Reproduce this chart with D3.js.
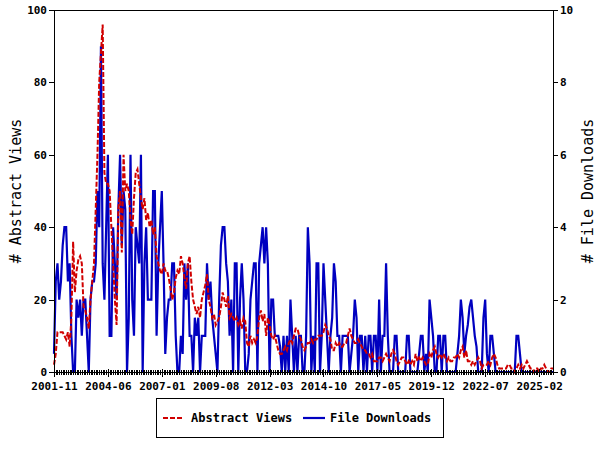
<!DOCTYPE html>
<html>
<head>
<meta charset="utf-8">
<script src="https://cdn.jsdelivr.net/npm/d3@7"></script>
<style>
  body { margin: 0; background: #fff; }
  text { font-family: "DejaVu Sans Mono", monospace; }
</style>
</head>
<body>
<div id="chart"></div>
<script>
// x tick labels, one every 31 months starting at 2001-11
var tickLabels = ["2001-11","2004-06","2007-01","2009-08","2012-03","2014-10","2017-05","2019-12","2022-07","2025-02"];

// monthly abstract views, 2001-11 .. 2025-10
var abstractViews = [
  2, 5, 11, 11, 11, 11, 10, 9, 11, 7,
  15, 36, 22, 28, 31, 32, 30, 18, 17, 15,
  12, 20, 25, 30, 45, 60, 80, 88, 96, 55,
  52, 52, 50, 40, 30, 20, 13, 45, 50, 33,
  60, 50, 52, 50, 42, 38, 48, 55, 56, 52,
  48, 45, 48, 42, 44, 40, 42, 38, 40, 32,
  30, 28, 27, 30, 28, 28, 26, 23, 20, 22,
  26, 28, 27, 32, 30, 26, 23, 30, 32, 25,
  20, 18, 16, 18, 15, 20, 22, 24, 27, 20,
  18, 15, 16, 13, 14, 15, 18, 22, 20, 18,
  21, 15, 16, 15, 14, 15, 13, 14, 12, 15,
  14, 8, 7, 10, 8, 9, 8, 10, 15, 17,
  14, 16, 10, 15, 13, 10, 9, 10, 8, 6,
  5, 5, 6, 7, 6, 8, 9, 8, 10, 12,
  12, 10, 9, 7, 6, 7, 8, 8, 9, 8,
  9, 9, 10, 10, 10, 11, 13, 12, 10, 9,
  6, 6, 8, 7, 8, 7, 7, 8, 8, 10,
  12, 10, 9, 8, 8, 9, 8, 7, 6, 6,
  5, 5, 4, 5, 3, 3, 3, 4, 4, 3,
  4, 5, 4, 3, 5, 6, 5, 3, 2, 3,
  4, 4, 3, 2, 3, 2, 3, 2, 5, 3,
  4, 3, 4, 3, 2, 2, 5, 4, 6, 7,
  5, 4, 5, 4, 5, 4, 3, 4, 3, 3,
  4, 4, 5, 4, 6, 7, 4, 6, 3, 3,
  2, 3, 2, 3, 4, 3, 1, 2, 2, 2,
  3, 2, 4, 5, 4, 2, 1, 1, 1, 1,
  1, 2, 2, 1, 1, 0, 1, 2, 1, 2,
  1, 2, 3, 2, 1, 1, 0, 1, 1, 0,
  1, 1, 2, 1, 0, 0, 1, 1
];

// monthly file downloads, same months
var fileDownloads = [
  0.5, 2.5, 3, 2, 2.5, 3.5, 4, 4, 2.5, 3,
  1, 0, 0, 2, 1.5, 2, 1, 2, 2, 1,
  0, 2, 2.5, 2.5, 3, 5, 4, 9, 3, 2,
  4, 6, 1, 1, 4, 3, 2, 4.5, 6, 3.5,
  5, 4.5, 0, 1.5, 6, 2, 1, 4, 3.5, 3,
  6, 0, 3, 4, 2, 2, 2, 5, 5, 1,
  3, 4, 5, 3, 0.5, 1.5, 2, 2, 3, 3,
  1, 0, 0, 1, 0.5, 3, 2, 3, 1, 1,
  0, 1.5, 1, 1.5, 0, 1, 1, 1, 3, 2,
  2.5, 1.5, 1, 0.5, 0, 2, 3.5, 4, 4, 3,
  2.5, 1, 2, 0, 3, 3, 0, 2, 3, 2,
  0, 0, 0.5, 2, 2.5, 3, 3, 0, 3, 3.5,
  4, 3, 4, 3, 0, 2, 2, 1, 1, 1,
  0.7, 0, 1, 0, 1, 0, 2, 1, 0, 1,
  0, 1, 1, 0, 0, 1, 4, 3, 0, 1,
  0, 3, 3, 0, 1, 3, 2, 1, 0, 1,
  1.5, 3, 2.5, 1, 1, 0, 1, 1, 1, 1,
  0, 0.5, 1, 2, 1.5, 0, 1, 1, 0, 1,
  0, 1, 1, 0, 1, 1, 0, 2, 0, 1,
  1, 3, 1, 0, 0, 0, 1, 1, 0, 0,
  0, 0, 0, 1, 1, 0, 0, 0, 0, 0,
  0.5, 1, 1, 0, 0.5, 0, 2, 1.5, 1, 0,
  0, 1, 1, 0, 1, 1, 0, 0, 0, 0,
  0, 0, 0.5, 1, 2, 1.5, 0.5, 1, 1.3, 1.8,
  2, 1.5, 1, 0.7, 0, 0, 0, 1.5, 2, 0.5,
  0, 1, 1, 0.5, 0, 0, 0, 0, 0, 0,
  0, 0, 0, 0, 0, 0, 1, 1, 0.5, 0,
  0, 0, 0, 0, 0, 0, 0, 0, 0, 0,
  0, 0, 0, 0, 0, 0, 0, 0
];

var viewTicks = [0, 20, 40, 60, 80, 100];
var downloadTicks = [0, 2, 4, 6, 8, 10];

function getConfig(){
    let width = 600, height = 450;
    let margin = {top: 10, right: 47, bottom: 78, left: 54};
    let plot = {};
    plot.w = width - margin.left - margin.right;
    plot.h = height - margin.top - margin.bottom;
    plot.red = "#d00000";
    plot.blue = "#0000c0";
    return {width, height, margin, plot};
}

function showData(){
    let config = getConfig();
    let m = config.margin, p = config.plot;

    let svg = d3.select("#chart").append("svg")
        .attr("width", config.width)
        .attr("height", config.height)
        .style("background-color", "#fff");

    let g = svg.append("g").attr("transform", `translate(${m.left},${m.top})`);

    let months = d3.range(abstractViews.length);
    let xScale = d3.scaleLinear().domain([0, abstractViews.length - 1]).range([0, p.w]);
    let yLeft = d3.scaleLinear().domain([0, 100]).range([p.h, 0]);
    let yRight = d3.scaleLinear().domain([0, 10]).range([p.h, 0]);

    // frame top line
    g.append("line").attr("x1", 0).attr("x2", p.w).attr("y1", 0.5).attr("y2", 0.5)
        .attr("stroke", "#000").attr("stroke-width", 1);

    // lines
    let blueLine = d3.line().x(i => xScale(i)).y(i => yRight(fileDownloads[i]));
    let redLine = d3.line().x(i => xScale(i)).y(i => yLeft(abstractViews[i]));

    g.append("path").attr("d", blueLine(months))
        .attr("fill", "none").attr("stroke", p.blue).attr("stroke-width", 2.2)
        .attr("stroke-linejoin", "miter");
    g.append("path").attr("d", redLine(months))
        .attr("fill", "none").attr("stroke", p.red).attr("stroke-width", 2)
        .attr("stroke-dasharray", "5,2");

    // left axis
    let leftAx = g.append("g")
        .call(d3.axisLeft(yLeft).tickValues(viewTicks).tickSize(5).tickSizeOuter(0).tickPadding(2));
    // right axis
    let rightAx = g.append("g").attr("transform", `translate(${p.w},0)`)
        .call(d3.axisRight(yRight).tickValues(downloadTicks).tickSize(5).tickSizeOuter(0).tickPadding(2));

    // minor month ticks on bottom
    let minorAx = g.append("g").attr("transform", `translate(0,${p.h})`)
        .call(d3.axisBottom(xScale).tickValues(months).tickSize(3).tickSizeOuter(0).tickFormat(""));
    minorAx.selectAll(".tick line").attr("y1", -2);

    // major ticks with labels
    let majorVals = tickLabels.map((d, i) => i * 31);
    let bottomAx = g.append("g").attr("transform", `translate(0,${p.h})`)
        .call(d3.axisBottom(xScale).tickValues(majorVals).tickSize(5).tickSizeOuter(0)
            .tickPadding(5).tickFormat((d, i) => tickLabels[i]));
    bottomAx.selectAll(".tick line").attr("y1", -3);

    [leftAx, rightAx, minorAx, bottomAx].forEach(a => {
        a.selectAll("path, line").attr("stroke", "#000").attr("shape-rendering", "crispEdges");
        a.selectAll("text").attr("font-family", "DejaVu Sans Mono").attr("font-weight", "bold")
            .attr("font-size", 11).attr("fill", "#000");
    });

    // axis titles
    svg.append("text")
        .attr("transform", `translate(${21},${m.top + p.h / 2}) rotate(-90)`)
        .attr("text-anchor", "middle")
        .attr("font-size", 15)
        .text("# Abstract Views");
    svg.append("text")
        .attr("transform", `translate(${593},${m.top + p.h / 2}) rotate(-90)`)
        .attr("text-anchor", "middle")
        .attr("font-size", 15)
        .text("# File Downloads");

    // legend
    let lg = svg.append("g").attr("transform", "translate(156,398)");
    lg.append("rect").attr("x", 0.5).attr("y", 0.5).attr("width", 287).attr("height", 39)
        .attr("fill", "#fff").attr("stroke", "#000").attr("stroke-width", 1);
    lg.append("line").attr("x1", 7).attr("x2", 28).attr("y1", 20).attr("y2", 20)
        .attr("stroke", p.red).attr("stroke-width", 2).attr("stroke-dasharray", "5,2");
    lg.append("text").attr("x", 35).attr("y", 24).attr("font-size", 12).attr("font-weight", "bold")
        .text("Abstract Views");
    lg.append("line").attr("x1", 147).attr("x2", 169).attr("y1", 20).attr("y2", 20)
        .attr("stroke", p.blue).attr("stroke-width", 2.2);
    lg.append("text").attr("x", 174).attr("y", 24).attr("font-size", 12).attr("font-weight", "bold")
        .text("File Downloads");
}

window.addEventListener("load", showData);
</script>
</body>
</html>
